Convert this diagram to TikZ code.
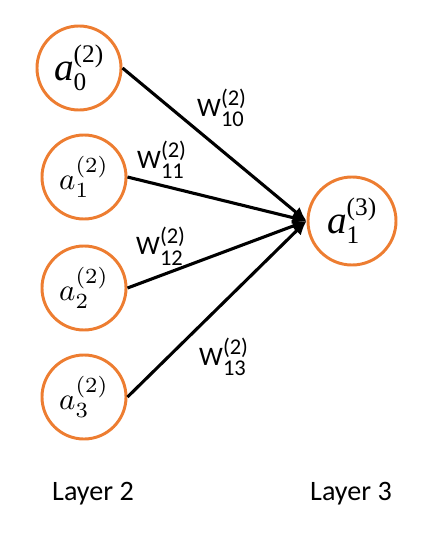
\documentclass[tikz,border=0pt]{standalone}
\usepackage[no-math]{fontspec}
\usepackage{amsmath}
\setmainfont{Carlito}
\newfontfamily\cambria{Liberation Serif}
\usepackage{tikz}
\usetikzlibrary{arrows.meta}
\definecolor{neuron}{RGB}{237,125,49}
\newcommand{\scr}[1]{\text{\fontsize{18}{18}\selectfont #1}}
\newcommand{\wscr}[1]{\text{\fontsize{16}{16}\selectfont #1}}

\begin{document}
\begin{tikzpicture}[x=0.025cm,y=-0.025cm]
\useasboundingbox (0,0) rectangle (422,534);
\tikzstyle{every node}=[draw=neuron,circle,line width=2.1pt,minimum size=2.1cm,inner sep=0pt]
    \node(a0) at (79,68){\cambria\fontsize{28}{28}\selectfont$\text{\itshape a}^{\scr{(2)}}_{\scr{0}}$};
    \node(a1) at (84,177){\scalebox{2.2}{$a^{(2)}_1$}};
    \node(a2) at (84,288){\scalebox{2.2}{$a^{(2)}_2$}};
    \node(a3) at (84,397){\scalebox{2.2}{$a^{(2)}_3$}};
    \node[minimum size=2.2cm](b1) at (352,221){\cambria\fontsize{28}{28}\selectfont$\text{\itshape a}^{\scr{(3)}}_{\scr{1}}$};
  \tikzstyle{every node}=[font=\fontsize{19}{22}\selectfont]
    \draw[line width=2.2pt,-{Latex[length=10pt,width=9pt]}](a0.east)--(b1.west);
    \draw[line width=2.2pt,-{Latex[length=10pt,width=9pt]}](a1.east)--(b1.west);
    \draw[line width=2.2pt,-{Latex[length=10pt,width=9pt]}](a2.east)--(b1.west);
    \draw[line width=2.2pt,-{Latex[length=10pt,width=9pt]}](a3.east)--(b1.west);
    \node(w10) at (222,108){$\text{W}^{\wscr{(2)}}_{\wscr{10}}$};
    \node(w11) at (162,160){$\text{W}^{\wscr{(2)}}_{\wscr{11}}$};
    \node(w12) at (161,246){$\text{W}^{\wscr{(2)}}_{\wscr{12}}$};
    \node(w13) at (224,357){$\text{W}^{\wscr{(2)}}_{\wscr{13}}$};
    \node[font=\fontsize{20}{24}\selectfont](l2) at (93,494){Layer 2};
    \node[font=\fontsize{20}{24}\selectfont](l3) at (351,494){Layer 3};
  \tikzstyle{every node}=[]
\end{tikzpicture}
\end{document}
